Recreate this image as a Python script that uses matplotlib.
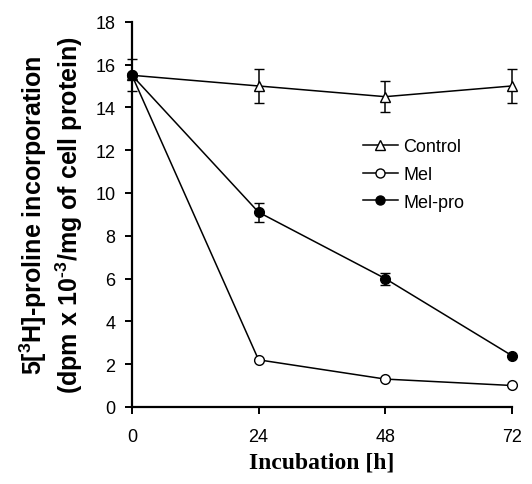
import matplotlib
matplotlib.use("Agg")
import matplotlib.pyplot as plt
from matplotlib.lines import Line2D

hours = [0, 24, 48, 72]
control = [15.5, 15.0, 14.5, 15.0]
control_err = [0.75, 0.78, 0.72, 0.78]
mel = [15.5, 2.2, 1.3, 1.0]
mel_err = [0.0, 0.0, 0.0, 0.0]
melpro = [15.5, 9.1, 6.0, 2.4]
melpro_err = [0.0, 0.45, 0.28, 0.0]
labels = ["Control", "Mel", "Mel-pro"]

plt.rcParams["font.family"] = ["Liberation Sans", "DejaVu Sans"]
plt.rcParams["mathtext.fontset"] = "custom"
plt.rcParams["mathtext.rm"] = "Liberation Sans:bold"
plt.rcParams["mathtext.bf"] = "Liberation Sans:bold"
plt.rcParams["mathtext.default"] = "bf"

fig = plt.figure(figsize=(5.32, 4.85), dpi=100)
ax = fig.add_axes([0.248, 0.159, 0.714, 0.794])

kw = dict(color="black", lw=1.1, capsize=3.5, elinewidth=1.1, capthick=1.1,
          markersize=7, markeredgewidth=1.0, markeredgecolor="black", clip_on=False)
ax.errorbar(hours, control, yerr=control_err, marker="^", markerfacecolor="white",
            zorder=3, **kw)
ax.errorbar(hours, mel, yerr=mel_err, marker="o", markerfacecolor="white",
            zorder=4, **kw)
ax.errorbar(hours, melpro, yerr=melpro_err, marker="o", markerfacecolor="black",
            zorder=5, **kw)

ax.set_xlim(0, 72)
ax.set_ylim(0, 18)
ax.set_xticks(hours)
ax.set_yticks(range(0, 19, 2))
for s in ("top", "right"):
    ax.spines[s].set_visible(False)
for s in ("left", "bottom"):
    ax.spines[s].set_linewidth(1.6)
ax.tick_params(direction="out", length=5, width=1.4, labelsize=13)
ax.tick_params(axis="x", pad=10)
ax.tick_params(axis="y", pad=7)

ax.set_ylabel("5[$^{3}$H]-proline incorporation\n"
              "(dpm x 10$^{\\text{-3}}$/mg of cell protein)",
              fontsize=18, fontweight="bold", labelpad=7, linespacing=1.2)
ax.set_xlabel("Incubation [h]", fontsize=17, fontweight="bold",
              family="Liberation Serif", labelpad=5)

handles = [
    Line2D([], [], color="black", lw=1.1, marker="^", markersize=6.5,
           markerfacecolor="white", markeredgecolor="black"),
    Line2D([], [], color="black", lw=1.1, marker="o", markersize=6.5,
           markerfacecolor="white", markeredgecolor="black"),
    Line2D([], [], color="black", lw=1.1, marker="o", markersize=6.5,
           markerfacecolor="black", markeredgecolor="black"),
]
ax.legend(handles, labels, loc="upper left", bbox_to_anchor=(0.589, 0.717),
          frameon=False, fontsize=13, handlelength=1.95, handletextpad=0.28,
          labelspacing=0.6, borderaxespad=0)

fig.savefig("out.png", dpi=100)
